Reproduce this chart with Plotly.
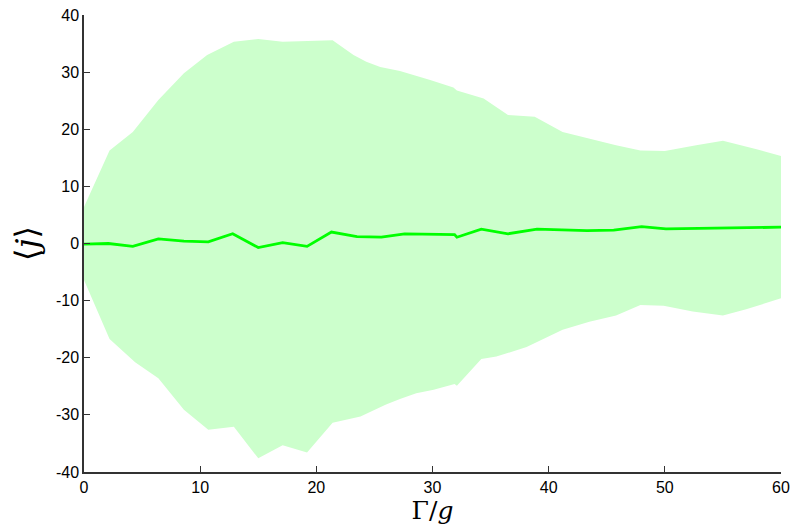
import plotly.graph_objects as go

# Upper edge of the shaded band
x_up = [0, 2.2, 4.2, 6.4, 8.6, 10.6, 12.9, 15.0, 17.1, 19.3, 21.4, 23.2, 24.3, 25.5, 27.2,
        29.8, 31.8, 32.1, 34.4, 36.5, 38.8, 41.2, 43.3, 45.8, 47.9, 50.0, 52.7, 55.0, 57.9, 60]
y_up = [6.4, 16.3, 19.5, 25.1, 29.8, 33.0, 35.3, 35.8, 35.3, 35.5, 35.6, 33.0, 31.8, 30.9, 30.2,
        28.6, 27.3, 26.8, 25.4, 22.5, 22.2, 19.5, 18.4, 17.2, 16.3, 16.2, 17.2, 18.0, 16.5, 15.3]

# Lower edge of the shaded band
x_lo = [0, 2.2, 4.4, 6.4, 8.6, 10.7, 12.9, 15.0, 17.1, 19.2, 21.4, 23.8, 26.0, 27.2, 28.6,
        30.1, 31.9, 32.1, 34.2, 35.5, 38.1, 41.2, 43.5, 45.8, 47.9, 49.9, 52.4, 55.0, 57.0, 60]
y_lo = [-6.4, -16.7, -20.8, -23.6, -29.1, -32.6, -32.1, -37.6, -35.3, -36.6, -31.4, -30.3, -28.2, -27.2, -26.2,
        -25.6, -24.6, -24.9, -20.2, -19.8, -18.1, -15.1, -13.7, -12.6, -10.75, -10.9, -11.9, -12.6, -11.5, -9.6]

# Mean curve
x_mean = [0, 2.1, 4.2, 6.4, 8.6, 10.7, 12.8, 15.0, 17.1, 19.2, 21.3, 23.5, 25.6, 27.6, 30.6,
          31.9, 32.1, 34.2, 36.5, 39.0, 43.3, 45.6, 48.0, 50.1, 60]
y_mean = [-0.1, 0.0, -0.5, 0.8, 0.4, 0.3, 1.7, -0.7, 0.15, -0.5, 2.0, 1.2, 1.1, 1.7, 1.6,
          1.55, 1.1, 2.5, 1.7, 2.5, 2.25, 2.35, 2.95, 2.55, 2.85]

x_ticks = [0, 10, 20, 30, 40, 50, 60]
y_ticks = [-40, -30, -20, -10, 0, 10, 20, 30, 40]

fig = go.Figure()
fig.add_trace(go.Scatter(
    x=x_up + x_lo[::-1], y=y_up + y_lo[::-1],
    fill="toself", fillcolor="#ccffcc", line=dict(width=0),
    mode="lines", hoverinfo="skip", showlegend=False))
fig.add_trace(go.Scatter(
    x=x_mean, y=y_mean, mode="lines",
    line=dict(color="#00ff00", width=2.8), showlegend=False))

axis_common = dict(
    showgrid=False, zeroline=False, showline=True, linecolor="#333333", linewidth=1.5,
    ticks="inside", ticklen=6, tickwidth=1, tickcolor="#333333", automargin=False,
    tickfont=dict(family="Liberation Sans, Arial", size=16, color="black"),
)

fig.update_layout(
    width=794, height=526,
    margin=dict(l=84, r=13, t=15, b=54),
    paper_bgcolor="white", plot_bgcolor="white",
    xaxis=dict(range=[0, 60], tickvals=x_ticks, ticktext=[str(v) for v in x_ticks],
               title=dict(text="Γ/<i>g</i>", standoff=0,
                          font=dict(family="DejaVu Serif, Liberation Serif, serif", size=25, color="black")),
               **axis_common),
    yaxis=dict(range=[-40, 40], tickvals=y_ticks, ticktext=[str(v) for v in y_ticks],
               title=dict(text="⟨<i>j</i>⟩", standoff=8,
                          font=dict(family="DejaVu Serif, Liberation Serif, serif", size=32, color="black")),
               **axis_common),
)

fig.write_html("out.html")
